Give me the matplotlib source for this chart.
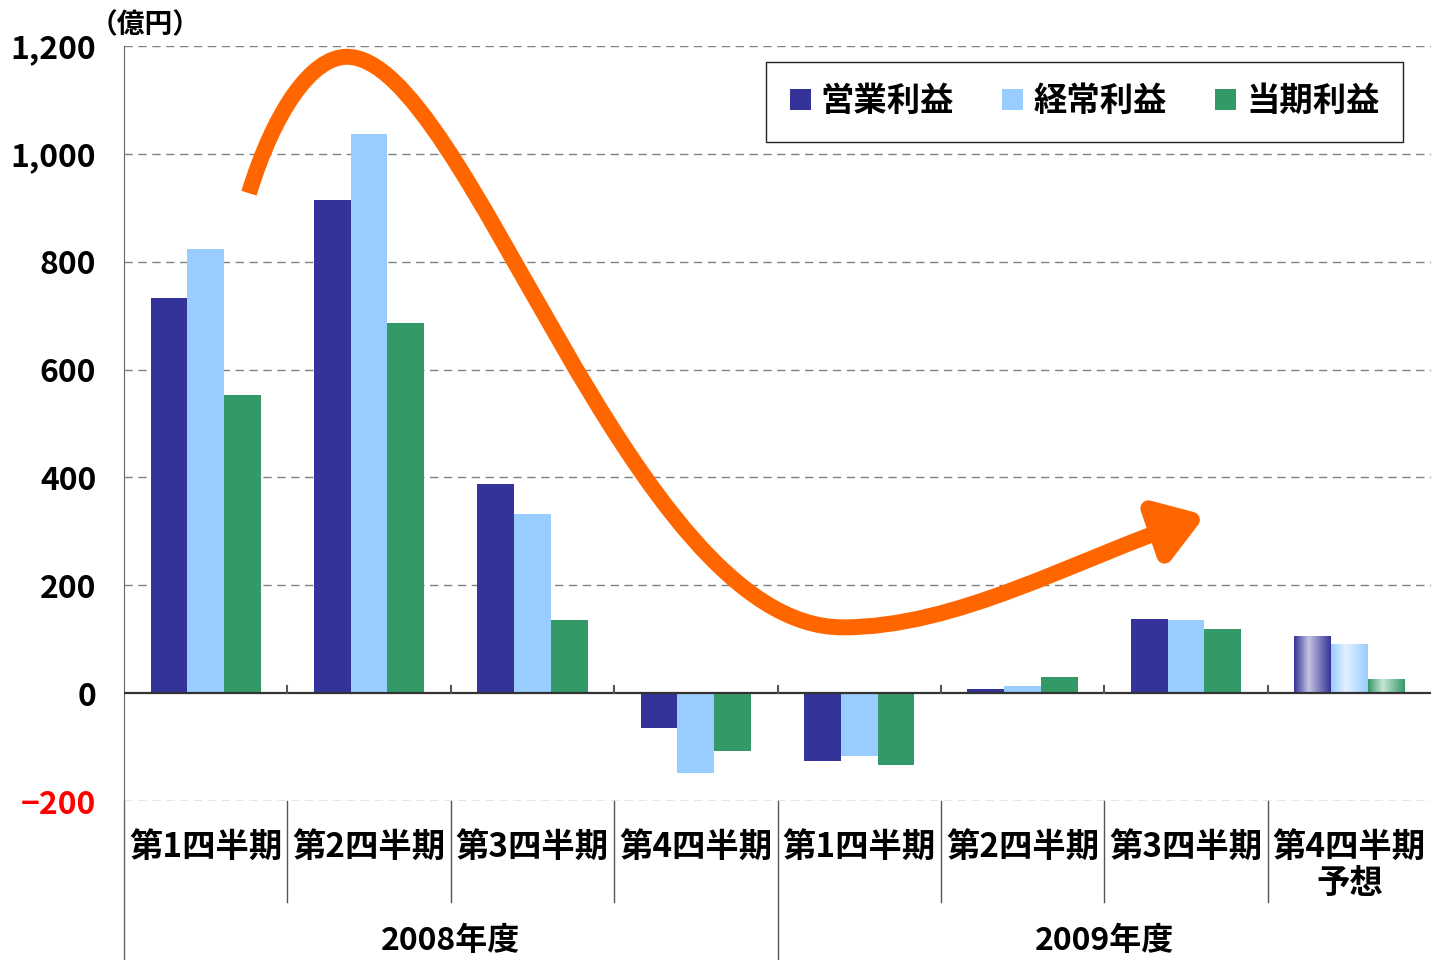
import matplotlib
matplotlib.use('Agg')
import matplotlib.pyplot as plt
import numpy as np
from matplotlib.path import Path
from matplotlib.patches import FancyArrowPatch, Patch
from matplotlib.colors import LinearSegmentedColormap
from matplotlib.transforms import blended_transform_factory

plt.rcParams['font.family'] = ['Noto Sans CJK JP', 'DejaVu Sans']
plt.rcParams['font.weight'] = 'bold'

# データ（億円）
quarters = ['第1四半期', '第2四半期', '第3四半期', '第4四半期',
            '第1四半期', '第2四半期', '第3四半期', '第4四半期']
years = ['2008年度', '2009年度']
series = ['営業利益', '経常利益', '当期利益']
eigyo = [733, 914, 388, -65, -126, 7, 137, 106]
keijo = [823, 1037, 332, -148, -117, 13, 135, 91]
touki = [553, 686, 135, -108, -134, 30, 119, 26]
colors = ['#333399', '#99CCFF', '#339966']
light = ['#C4C4E2', '#E2F1FF', '#C6E6D6']
yticks = [-200, 0, 200, 400, 600, 800, 1000, 1200]
forecast = 7  # 予想の四半期

# トレンド矢印の通過点（データ座標, ベジェ制御点）
trend_x = [0.265, 0.42, 0.65, 0.864, 1.6, 2.6, 3.898, 4.6, 5.3, 6.12]
trend_y = [927, 1080, 1180, 1180, 1180, 122, 122, 122, 245, 330]

fig = plt.figure(figsize=(14.31, 9.6), dpi=100)
ax = fig.add_axes([124 / 1431, 1 - 801 / 960, 1 - 124 / 1431, 755 / 960])

x = np.arange(len(quarters))
w = 0.225
for k, (vals, c, lc) in enumerate(zip([eigyo, keijo, touki], colors, light)):
    bars = ax.bar(x + (k - 1) * w, vals, w, color=c, zorder=2)
    cm = LinearSegmentedColormap.from_list('g%d' % k, [(0, c), (0.4, lc), (1, c)])
    b = bars[forecast]
    grad = np.linspace(0, 1, 256).reshape(1, -1)
    im = ax.imshow(grad, cmap=cm, aspect='auto', interpolation='bilinear',
                   extent=[b.get_x(), b.get_x() + b.get_width(), 0, b.get_height()],
                   zorder=3)
    im.set_clip_path(b)

ax.set_xlim(-0.5, len(quarters) - 0.5)
ax.set_ylim(-200, 1200)
ax.set_yticks(yticks)
ax.set_yticklabels(['{:,}'.format(v) if v >= 0 else '\u2212' + '{:,}'.format(-v) for v in yticks],
                   fontsize=23, fontweight='bold')
ax.get_yticklabels()[0].set_color('#FF0000')
ax.tick_params(axis='y', length=0, pad=20)
ax.set_xticks([])

for v in yticks:
    if v != 0:
        ax.axhline(v, color='#808080', lw=1, ls=(0, (6, 4)), zorder=1)
ax.axhline(0, color='#333333', lw=1.6, zorder=4)

for s in ['top', 'right', 'bottom']:
    ax.spines[s].set_visible(False)
ax.spines['left'].set_color('#666666')
ax.spines['left'].set_bounds(-200, 1200)

# 区切り線と小さな目盛り
tr = blended_transform_factory(ax.transData, ax.transAxes)
for i in range(1, len(quarters)):
    bottom = -0.2119 if i == 4 else -0.1338
    ax.plot([i - 0.5, i - 0.5], [0, bottom], transform=tr, color='#555555', lw=1, clip_on=False)
    ax.plot([i - 0.5, i - 0.5], [0, 14], color='#555555', lw=1.5, zorder=4)
ax.plot([-0.5, -0.5], [0, -0.2119], transform=tr, color='#666666', lw=1, clip_on=False)

for i, q in enumerate(quarters):
    ax.text(i, -0.061, q, transform=tr, ha='center', va='center', fontsize=24, fontweight='bold')
ax.text(forecast, -0.109, '予想', transform=tr, ha='center', va='center', fontsize=24, fontweight='bold')
for j, yl in enumerate(years):
    ax.text(1.5 + 4 * j, -0.186, yl, transform=tr, ha='center', va='center', fontsize=23, fontweight='bold')

fig.text(90 / 1431, 1 - 25 / 960, '（億円）', ha='left', va='center', fontsize=20, fontweight='bold')

# トレンド矢印
verts = list(zip(trend_x, trend_y))
codes = [Path.MOVETO] + [Path.CURVE4] * 9
arrow = FancyArrowPatch(path=Path(verts, codes), arrowstyle='-|>,head_length=1.5,head_width=1.0',
                        mutation_scale=18, color='#FF6600', lw=11.5, capstyle='butt', zorder=6)
ax.add_patch(arrow)

handles = [Patch(facecolor=c) for c in colors]
leg = ax.legend(handles, series, ncol=3, loc='upper right', bbox_to_anchor=(0.9786, 0.979),
                borderaxespad=0, fancybox=False, edgecolor='#222222', framealpha=1,
                handlelength=0.63, handleheight=0.63, handletextpad=0.3, columnspacing=1.45,
                borderpad=0.7, prop={'weight': 'bold', 'size': 24})
leg.get_frame().set_linewidth(1)
leg.set_zorder(7)

fig.savefig('out.png', dpi=100)
